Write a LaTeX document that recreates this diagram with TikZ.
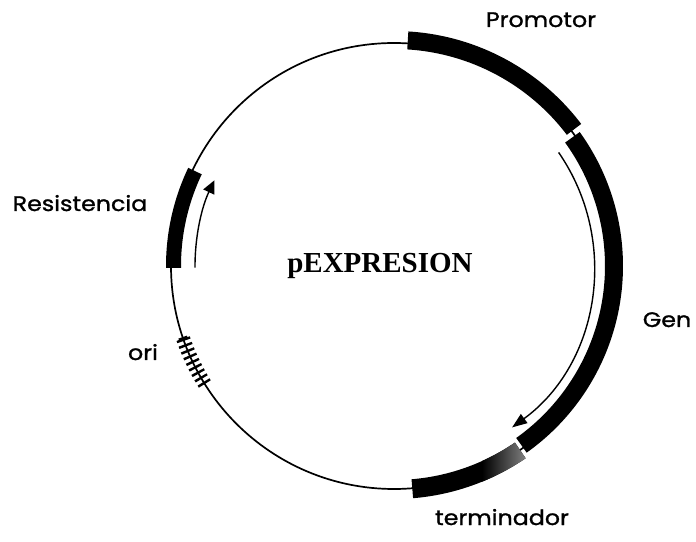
\documentclass[tikz,border=0pt]{standalone}
\usepackage{fontspec}
\setmainfont{Liberation Serif}
\newfontfamily\labfont{Poppins}[FakeStretch=1.13, FakeBold=1.2]
\usetikzlibrary{arrows.meta,calc}
\begin{document}
\begin{tikzpicture}[x=1pt,y=1pt,
  lab/.style={font=\labfont\fontsize{21}{25}\selectfont, anchor=base, inner sep=0pt},
  dnaline/.style={line width=1.7pt},
  orfarrow/.style={line width=1.4pt, -{Triangle[length=15pt,width=11pt]}},
  resarrow/.style={line width=1.4pt, -{Triangle[length=13pt,width=12pt]}},
  orihatch/.style={line width=14pt, dash pattern=on 2.4pt off 3.6pt}]
\useasboundingbox (0,0) rectangle (696,541);
\coordinate (C) at (394,275);
\newcommand\plband[4]{%
  \fill ($(C)+(#1:#3)$) arc[start angle=#1, end angle=#2, radius=#3]
    -- ($(C)+(#2:#4)$) arc[start angle=#2, end angle=#1, radius=#4] -- cycle;}
% backbone
\draw[dnaline] (C) circle[radius=223];
% promotor
\plband{86.5}{37.2}{217}{235}
% gen
\plband{35.8}{-54.6}{211}{229}
% terminador
\plband{-55.6}{-85.3}{214}{233}
\begin{scope}
  \clip ($(C)+(-55.6:214)$) arc[start angle=-55.6, end angle=-70, radius=214]
    -- ($(C)+(-70:233)$) arc[start angle=-70, end angle=-55.6, radius=233] -- cycle;
  \shade[left color=black, right color=black!45] (482,60) rectangle (530,100);
\end{scope}
% resistencia
\plband{154.5}{180.5}{213}{228}
% ori
\draw[orihatch] ($(C)+(199:223)$) arc[start angle=199, end angle=212, radius=223];
\draw[line width=9pt] ($(C)+(198.6:223)$) arc[start angle=198.6, end angle=199.4, radius=223];
% arrows
\draw[orfarrow] ($(C)+(34.6:200)$) arc[start angle=34.6, end angle=-53.8, radius=200];
\draw[resarrow] ($(C)+(180.5:199)$) arc[start angle=180.5, end angle=154.5, radius=199];
% labels
\node[lab] (promotor) at (541,514) {Promotor};
\node[lab] (resist) at (80,330) {Resistencia};
\node[lab] (gen) at (667,214) {Gen};
\node[lab] (ori) at (143,181) {ori};
\node[lab] (term) at (502,16) {terminador};
\node[font=\bfseries\fontsize{29}{32}\selectfont, anchor=base, inner sep=0pt] (title) at (380,268) {pEXPRESION};
\end{tikzpicture}
\end{document}
